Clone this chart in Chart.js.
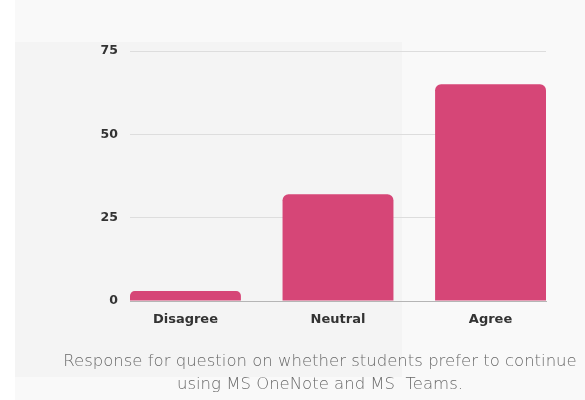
<!DOCTYPE html>
<html>
<head>
<meta charset="utf-8">
<script src="https://cdn.jsdelivr.net/npm/chart.js@4/dist/chart.umd.min.js"></script>
<style>
  html, body { margin: 0; padding: 0; width: 585px; height: 400px; overflow: hidden; background: #f9f9f9; }
  #strip { position: absolute; left: 0; top: 0; width: 15px; height: 400px; background: #ffffff; }
  #panel { position: absolute; left: 15px; top: 42px; width: 387px; height: 335px; background: #f4f4f4; }
  #wrap { position: absolute; left: 0; top: 0; width: 585px; height: 400px; }
  #caption {
    position: absolute; left: 20px; width: 600px; top: 349px;
    text-align: center; font-family: "DejaVu Sans", sans-serif; font-weight: 200;
    font-size: 16.5px; line-height: 23px; color: #6a6a6a; white-space: nowrap;
  }
</style>
</head>
<body>
<div id="strip"></div>
<div id="panel"></div>
<div id="wrap"><canvas id="respChart"></canvas></div>
<div id="caption">Response for question on whether students prefer to continue<br>using MS OneNote and MS&nbsp; Teams.</div>
<script>
const categorias = ['Disagree', 'Neutral', 'Agree'];
const respuestas = [3, 32, 65];
const ticksY = [0, 25, 50, 75];

const ctx = document.getElementById('respChart').getContext('2d');

// eje x lineal para que las barras queden al ras de la rejilla
window.myChart = new Chart(ctx, {
    type: 'bar',
    data: {
        datasets: [{
            label: 'Responses',
            data: respuestas.map((v, i) => ({ x: i, y: v })),
            backgroundColor: '#d64677',
            borderRadius: 6,
            borderSkipped: 'start',
            categoryPercentage: 0.727,
            barPercentage: 1.0
        }]
    },
    options: {
        responsive: true,
        maintainAspectRatio: false,
        animation: false,
        layout: { padding: { top: 51, right: 39, bottom: 0, left: 0 } },
        plugins: {
            legend: { display: false },
            tooltip: { enabled: false }
        },
        scales: {
            x: {
                type: 'linear',
                offset: false,
                min: -0.3635,
                max: categorias.length - 1 + 0.3635,
                afterBuildTicks: scale => { scale.ticks = categorias.map((c, i) => ({ value: i })); },
                grid: { display: false, drawTicks: false },
                border: { display: true, color: '#b5b5b5', width: 1 },
                ticks: {
                    padding: 11,
                    color: '#333',
                    autoSkip: false,
                    maxRotation: 0,
                    callback: v => categorias[v],
                    font: { family: 'DejaVu Sans', weight: 'bold', size: 13 }
                },
                afterFit: scale => { scale.height = 99; }
            },
            y: {
                min: 0,
                max: 75,
                afterBuildTicks: scale => { scale.ticks = ticksY.map(v => ({ value: v })); },
                grid: { color: '#dddddd', drawTicks: false },
                border: { display: false },
                ticks: {
                    padding: 12,
                    color: '#333',
                    font: { family: 'DejaVu Sans', weight: 'bold', size: 12.5 }
                },
                afterFit: scale => { scale.width = 130; }
            }
        }
    }
});
</script>
</body>
</html>
